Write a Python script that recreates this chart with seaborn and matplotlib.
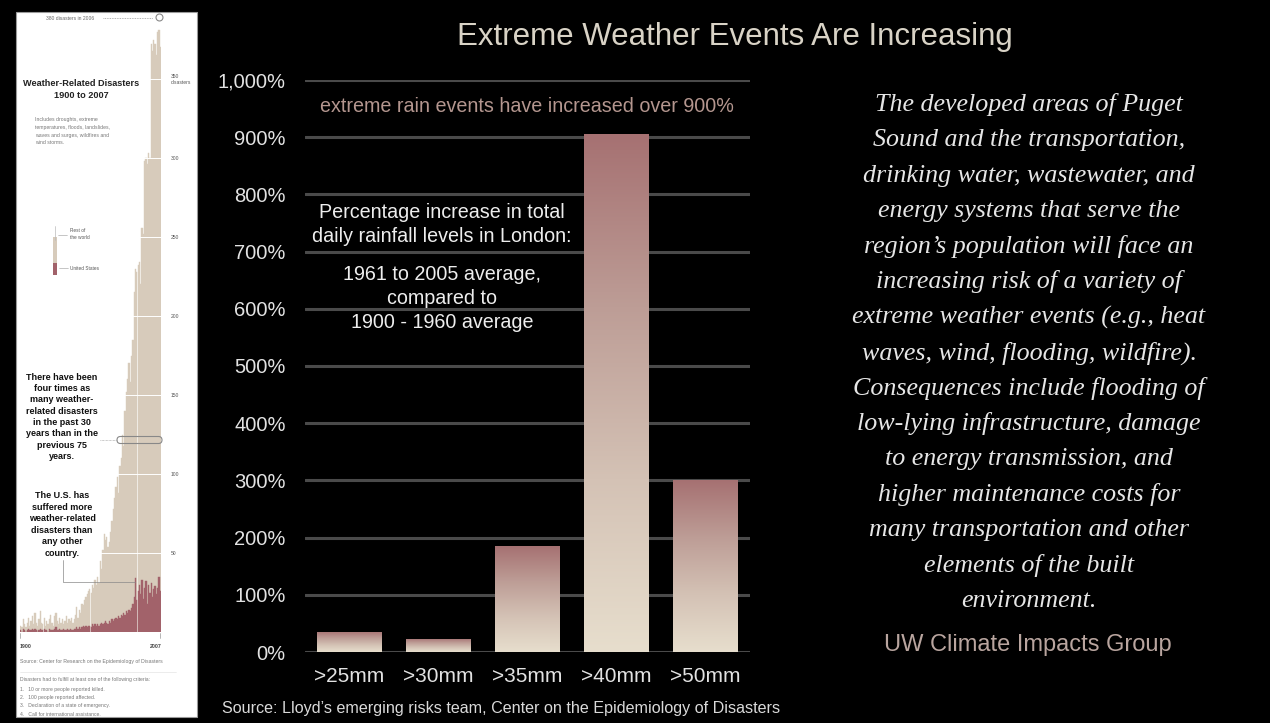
import numpy as np
import pandas as pd
import matplotlib
matplotlib.use("Agg")
import matplotlib.pyplot as plt
import seaborn as sns
from matplotlib.colors import LinearSegmentedColormap
from matplotlib.patches import FancyBboxPatch, Rectangle
from matplotlib.lines import Line2D
from matplotlib.transforms import IdentityTransform

# ---------------- data ----------------
categories = [">25mm", ">30mm", ">35mm", ">40mm", ">50mm"]
increase_pct = [35, 23, 185, 905, 300]
y_ticks = [0, 100, 200, 300, 400, 500, 600, 700, 800, 900, 1000]
y_tick_labels = ["0%", "100%", "200%", "300%", "400%", "500%", "600%",
                 "700%", "800%", "900%", "1,000%"]

years = list(range(1900, 2008))
total_disasters = [
    4, 3, 8, 5, 3, 6, 9, 4, 7, 10, 5, 12, 6, 4, 8, 13, 6, 5, 9, 4,
    7, 5, 8, 11, 6, 4, 10, 12, 7, 5, 9, 6, 8, 5, 7, 10, 6, 8, 7, 9,
    6, 8, 11,
    16, 9, 14, 12, 18, 17, 20, 22, 24, 26, 27, 25, 30, 28, 33, 30, 35, 31,
    45, 40, 52, 62, 58, 60, 54, 57, 63, 70, 78, 85, 92, 98, 88, 105, 110,
    125, 118, 140, 152, 160, 170, 158, 175,
    185, 215, 230, 228, 232, 234, 220, 256, 252, 298, 300, 296, 303, 300,
    372, 368, 375, 372, 365, 380, 381, 370]
us_disasters = [
    1, 0, 2, 1, 0, 1, 2, 1, 1, 2, 1, 2, 1, 0, 1, 2, 1, 1, 2, 1,
    1, 0, 2, 1, 1, 1, 2, 3, 1, 1, 2, 1, 1, 2, 1, 1, 2, 1, 2, 1,
    1, 2, 2,
    3, 2, 3, 2, 3, 4, 3, 4, 3, 4, 4, 3, 5, 4, 5, 4, 5, 4,
    5, 6, 5, 6, 7, 6, 5, 7, 6, 8, 7, 8, 9, 8, 10, 9, 11, 10, 12, 11, 13,
    12, 14, 13, 15,
    18, 22, 34, 20, 26, 30, 24, 33, 21, 28, 32, 18, 30, 25, 31, 22, 27,
    29, 24, 28, 35, 26]
inset_ticks = [50, 100, 150, 200, 250, 300, 350]
inset_tick_labels = ["50", "100", "150", "200", "250", "300", "350\ndisasters"]

right_text = [
    "The developed areas of Puget",
    "Sound and the transportation,",
    "drinking water, wastewater, and",
    "energy systems that serve the",
    "region\u2019s population will face an",
    "increasing risk of a variety of",
    "extreme weather events (e.g., heat",
    "waves, wind, flooding, wildfire).",
    "Consequences include flooding of",
    "low-lying infrastructure, damage",
    "to energy transmission, and",
    "higher maintenance costs for",
    "many transportation and other",
    "elements of the built",
    "environment.",
]

# ---------------- figure ----------------
sns.set_style("dark")
plt.rcParams["font.family"] = ["Liberation Sans", "DejaVu Sans"]

W, H = 1270, 723
fig = plt.figure(figsize=(W / 100, H / 100), dpi=100, facecolor="black")


def T(x, y, s, **kw):
    return fig.text(x / W, 1 - y / H, s, **kw)


def L(xs, ys, **kw):
    fig.add_artist(Line2D([x / W for x in xs], [1 - y / H for y in ys], **kw))


# ---------------- main chart ----------------
ax = fig.add_axes([305 / W, 1 - 652 / H, 445 / W, 572 / H])
ax.set_facecolor("black")
df = pd.DataFrame({"cat": categories, "pct": increase_pct})
sns.barplot(data=df, x="cat", y="pct", ax=ax, width=0.72, color="#C0A09A",
            saturation=1, linewidth=0, errorbar=None, zorder=3)

cmap = LinearSegmentedColormap.from_list(
    "bar", ["#E7DECD", "#D4C2B5", "#BD9D96", "#A67172"])
grad = np.linspace(0, 1, 256).reshape(-1, 1)
for p in list(ax.patches):
    x0, y0, w, h = p.get_x(), p.get_y(), p.get_width(), p.get_height()
    im = ax.imshow(grad, extent=[x0, x0 + w, y0, y0 + h], origin="lower",
                   aspect="auto", cmap=cmap, zorder=3)
    im.set_clip_path(p)
    p.set_facecolor("none")

ax.set_xlim(-0.5, 4.5)
ax.set_ylim(0, 1000)
ax.set_yticks(y_ticks)
ax.set_yticklabels(y_tick_labels)
ax.set_xlabel("")
ax.set_ylabel("")
ax.yaxis.grid(True, color="#4a4a4a", lw=2.2)
ax.xaxis.grid(False)
ax.set_axisbelow(True)
for s in ax.spines.values():
    s.set_visible(False)
ax.tick_params(axis="y", colors="#E2E2E2", labelsize=14.5, length=0, pad=14)
ax.tick_params(axis="x", colors="#E2E2E2", labelsize=15, length=0, pad=11)

T(735, 37, "Extreme Weather Events Are Increasing", color="#D9D3C6",
  fontsize=22.5, ha="center", va="center")
T(527, 107, "extreme rain events have increased over 900%", color="#B4968F",
  fontsize=14.2, ha="center", va="center")
T(442, 212, "Percentage increase in total", color="#EDEDED", fontsize=14.2,
  ha="center", va="center")
T(442, 237, "daily rainfall levels in London:", color="#EDEDED", fontsize=14.2,
  ha="center", va="center")
for i, s in enumerate(["1961 to 2005 average,", "compared to", "1900 - 1960 average"]):
    T(442, 275 + 24 * i, s, color="#EDEDED", fontsize=14.2, ha="center", va="center")
T(222, 708, "Source: Lloyd\u2019s emerging risks team, Center on the Epidemiology of Disasters",
  color="#DADADA", fontsize=11.6, ha="left", va="center")

# right text block
for i, s in enumerate(right_text):
    T(1029, 105 + 35.4 * i, s, color="#E6E6E6", fontsize=18.7,
      family=["Liberation Serif", "DejaVu Serif"], style="italic",
      ha="center", va="center")
T(1028, 645, "UW Climate Impacts Group", color="#B9A59F", fontsize=17,
  ha="center", va="center")

# ---------------- left inset ----------------
fig.add_artist(Rectangle((16 / W, 1 - 717 / H), 181 / W, 705 / H,
                         transform=fig.transFigure, facecolor="white",
                         edgecolor="#9a9a9a", lw=0.8, zorder=-1))

beige, mauve = "#D7CBBB", "#A2626A"
axi = fig.add_axes([20 / W, 1 - 632 / H, 141 / W, (632 - 15.8) / H])
axi.set_facecolor("none")
sns.barplot(x=years, y=total_disasters, native_scale=True, width=1, ax=axi,
            color=beige, saturation=1, errorbar=None, linewidth=0.3,
            edgecolor=beige)
sns.barplot(x=years, y=us_disasters, native_scale=True, width=1, ax=axi,
            color=mauve, saturation=1, errorbar=None, linewidth=0.3,
            edgecolor=mauve)
axi.set_xlim(1899.5, 2007.5)
axi.set_ylim(0, 390)
axi.set_xlabel("")
axi.set_ylabel("")
axi.set_xticks([])
axi.yaxis.tick_right()
axi.set_yticks(inset_ticks)
axi.set_yticklabels(inset_tick_labels)
axi.tick_params(axis="y", length=0, pad=7, labelsize=3.6, colors="#555555")
for t in axi.get_yticklabels():
    t.set_ha("left")
axi.yaxis.grid(True, color="white", lw=0.7)
axi.xaxis.grid(False)
axi.set_axisbelow(False)
for s in axi.spines.values():
    s.set_visible(False)
axi.plot([2006], [389], marker="o", ms=5, mfc="white", mec="#888888",
         mew=0.8, clip_on=False)

# inset annotations
T(70, 18, "380 disasters in 2006", fontsize=3.6, color="#666666",
  ha="center", va="center")
L([103, 153], [18, 18], color="#999999", lw=0.6, ls=(0, (1, 1)))
T(81, 83, "Weather-Related Disasters", fontsize=6.6, weight="bold",
  color="#222222", ha="center", va="center")
T(81, 95, "1900 to 2007", fontsize=6.6, weight="bold", color="#222222",
  ha="center", va="center")
for i, s in enumerate(["Includes droughts, extreme",
                       "temperatures, floods, landslides,",
                       "waves and surges, wildfires and",
                       "wind storms."]):
    T(35, 119 + 8 * i, s, fontsize=3.7, color="#777777", ha="left", va="center")

# mini legend
fig.add_artist(Rectangle((53 / W, 1 - 275 / H), 4 / W, 38 / H,
                         transform=fig.transFigure, facecolor=beige, lw=0))
fig.add_artist(Rectangle((53 / W, 1 - 275 / H), 4 / W, 12 / H,
                         transform=fig.transFigure, facecolor=mauve, lw=0))
L([55, 55], [226, 240], color="#bbbbbb", lw=0.5)
L([58, 67], [235, 235], color="#999999", lw=0.4)
L([59, 68], [268, 268], color="#999999", lw=0.4)
T(70, 231, "Rest of", fontsize=3.4, color="#555555", ha="left", va="center")
T(70, 238, "the world", fontsize=3.4, color="#555555", ha="left", va="center")
T(70, 268, "United States", fontsize=3.4, color="#555555", ha="left", va="center")

for i, s in enumerate(["There have been", "four times as", "many weather-",
                       "related disasters", "in the past 30",
                       "years than in the", "previous 75", "years."]):
    T(62, 377 + 11.4 * i, s, fontsize=6.5, weight="bold", color="#111111",
      ha="center", va="center")
L([100, 117], [440, 440], color="#999999", lw=0.5, ls=(0, (1, 1)))
fig.add_artist(FancyBboxPatch((117, H - 443.5), 45, 7,
                              boxstyle="round,pad=0,rounding_size=3.5",
                              transform=IdentityTransform(),
                              facecolor="none", edgecolor="#888888", lw=0.8))

for i, s in enumerate(["The U.S. has", "suffered more", "weather-related",
                       "disasters than", "any other", "country."]):
    T(62, 496 + 11.4 * i, s, fontsize=6.5, weight="bold", color="#111111",
      ha="center", va="center")
L([63, 63, 135], [560, 582, 582], color="#888888", lw=0.5)

L([20, 20], [633, 638], color="#999999", lw=0.5)
L([160, 160], [633, 638], color="#999999", lw=0.5)
T(26, 647, "1900", fontsize=3.8, weight="bold", color="#444444",
  ha="center", va="center")
T(156, 647, "2007", fontsize=3.8, weight="bold", color="#444444",
  ha="center", va="center")
T(20, 662, "Source: Center for Research on the Epidemiology of Disasters",
  fontsize=3.7, color="#777777", ha="left", va="center")
L([20, 176], [672, 672], color="#dddddd", lw=0.4)
for i, s in enumerate(["Disasters had to fulfill at least one of the following criteria:",
                       "1.   10 or more people reported killed.",
                       "2.   100 people reported affected.",
                       "3.   Declaration of a state of emergency.",
                       "4.   Call for international assistance."]):
    T(20, 680 + (10 if i else 0) + 8 * max(i - 1, 0), s, fontsize=3.6,
      color="#777777", ha="left", va="center")

fig.savefig("out.png", dpi=100, facecolor="black")
